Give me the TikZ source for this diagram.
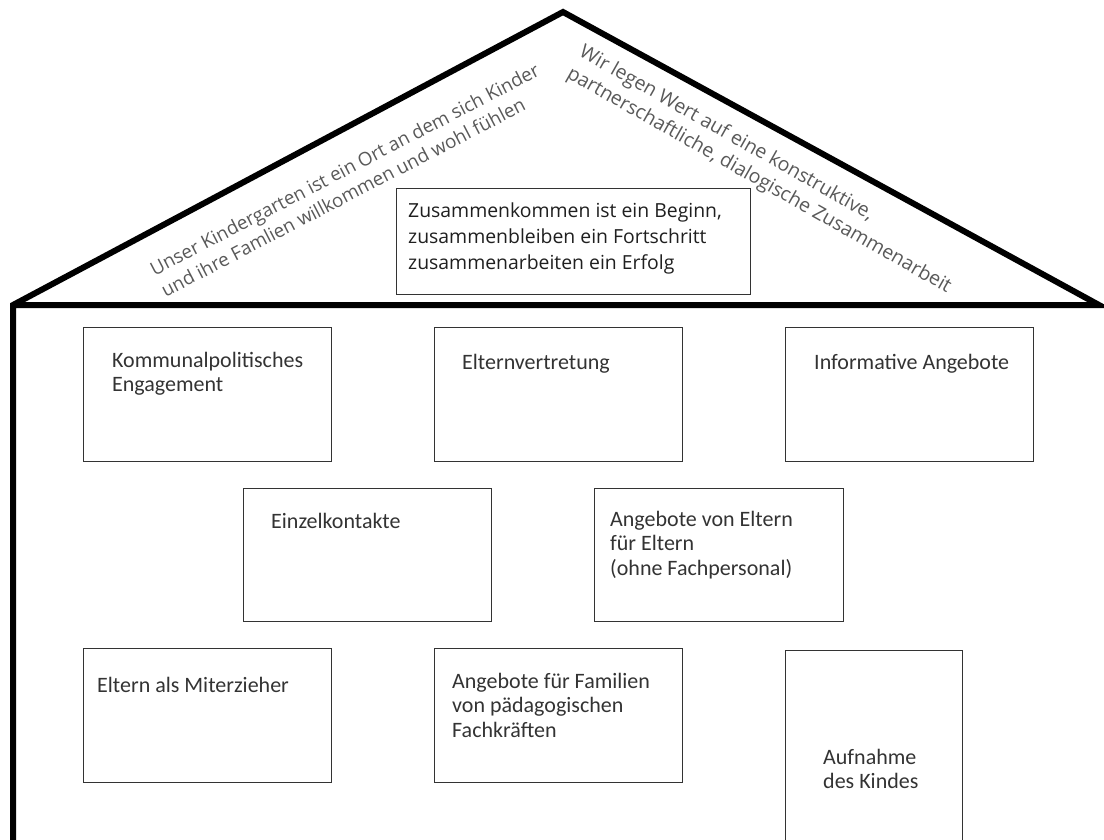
\documentclass[tikz,border=0pt]{standalone}
\usepackage{fontspec}
\setmainfont{Carlito}
\newfontfamily\segoe{Open Sans}
\begin{document}
\begin{tikzpicture}[x=1pt,y=-1pt,
  wall/.style={line width=6pt, line join=miter, draw=black},
  box/.style={draw=black!80, line width=1.3pt, inner sep=0pt, anchor=north west},
  lbl/.style={anchor=north west, inner sep=0pt, align=left, text=black!80,
              font=\fontsize{22}{24.5}\selectfont, execute at begin node=\strut},
  roof/.style={inner sep=0pt, align=left, text=black!65},
  motto/.style={anchor=north west, inner sep=0pt, align=left, text=black!88,
              font=\segoe\fontsize{19.4}{26}\selectfont, execute at begin node=\strut}]
\useasboundingbox (0,0) rectangle (1104,840);
% house outline
\coordinate (foot) at (13,850);
\coordinate (lc) at (13,305);
\coordinate (apex) at (563,12);
\coordinate (rc) at (1099,305);
\draw[wall] (foot) -- (lc) -- (apex) -- (rc) -- (lc);
% roof texts
\node[roof, rotate=27.5, font=\segoe\fontsize{18.8}{24}\selectfont] (rl) at (350,180)
  {Unser Kindergarten ist ein Ort an dem sich Kinder\\und ihre Famlien willkommen und wohl fühlen};
\node[roof, rotate=-29.5, font=\segoe\fontsize{19.5}{25}\selectfont] (rr) at (765,170)
  {Wir legen Wert auf eine konstruktive,\\partnerschaftliche, dialogische Zusammenarbeit};
% motto box
\node[box, minimum width=354pt, minimum height=106pt] (mb) at (396,188) {};
\node[motto] (mt) at (408,202.5)
  {Zusammenkommen ist ein Beginn,\\zusammenbleiben ein Fortschritt\\zusammenarbeiten ein Erfolg};
% row 1 (strut height 17.15 above first baseline)
\node[box, minimum width=248pt, minimum height=134pt] (b1) at (83,327) {};
\node[lbl] (t1) at (112,351.85) {Kommunalpolitisches\\Engagement};
\node[box, minimum width=248pt, minimum height=134pt] (b2) at (434,327) {};
\node[lbl] (t2) at (462,351.85) {Elternvertretung};
\node[box, minimum width=248pt, minimum height=134pt] (b3) at (785,327) {};
\node[lbl] (t3) at (814,351.85) {Informative Angebote};
% row 2
\node[box, minimum width=248pt, minimum height=133pt] (b4) at (243,488) {};
\node[lbl] (t4) at (271,510.85) {Einzelkontakte};
\node[box, minimum width=249pt, minimum height=133pt] (b5) at (594,488) {};
\node[lbl] (t5) at (610,510.85) {Angebote von Eltern\\für Eltern\\(ohne Fachpersonal)};
% row 3
\node[box, minimum width=248pt, minimum height=134pt] (b6) at (83,648) {};
\node[lbl] (t6) at (97,674.85) {Eltern als Miterzieher};
\node[box, minimum width=248pt, minimum height=134pt] (b7) at (434,648) {};
\node[lbl] (t7) at (452,672.85) {Angebote für Familien\\von pädagogischen\\Fachkräften};
\node[box, minimum width=177pt, minimum height=200pt] (b8) at (785,650) {};
\node[lbl] (t8) at (823,748.85) {Aufnahme\\des Kindes};
\end{tikzpicture}
\end{document}
